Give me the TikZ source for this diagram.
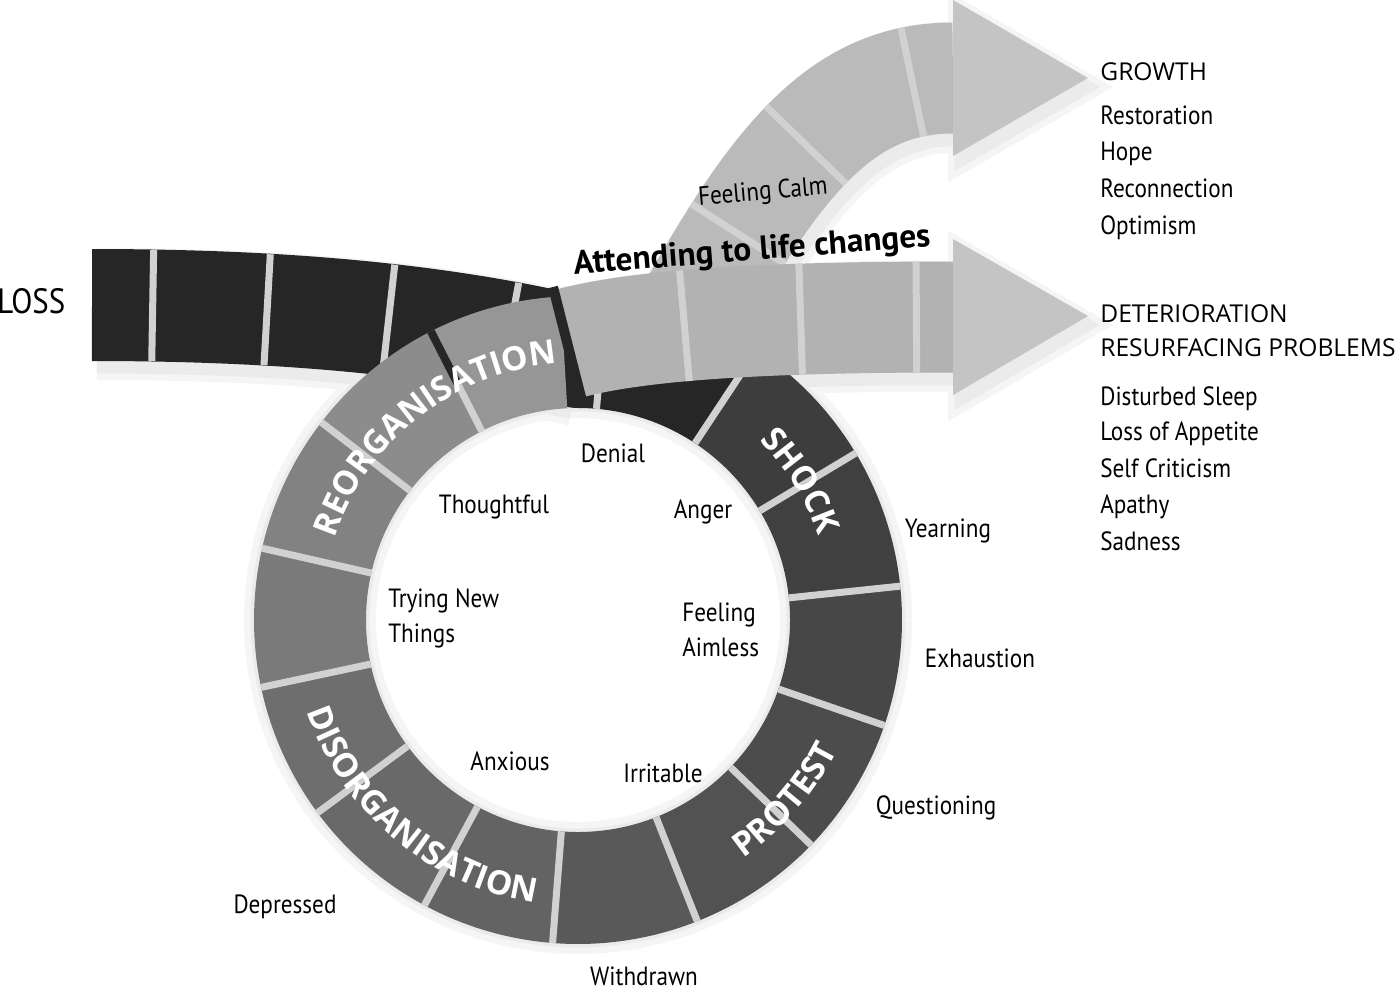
\documentclass[tikz,border=0pt]{standalone}
\usepackage{fontspec}
\setmainfont{PT Sans}
\newfontfamily\handfont[FakeStretch=0.88]{PT Sans}
\newfontfamily\boldhand{PT Sans}
\newfontfamily\headfont{Open Sans}
\newcommand\ringfont{\headfont\bfseries\fontsize{19}{22}\selectfont}
\usetikzlibrary{decorations.text}

\begin{document}
\begin{tikzpicture}[
  x=0.02cm, y=0.02cm,
  hand/.style={font=\handfont\fontsize{15}{20.4}\selectfont, inner sep=0pt},
  item/.style={hand, anchor=base west},
  head/.style={font=\headfont\fontsize{14}{17}\selectfont, inner sep=0pt, anchor=base west},
  band/.style={line width=2.22cm, line join=round},
  ringseg/.style={line width=2.24cm},
  gapline/.style={draw=black!18, line width=0.14cm},
  gapmark/.style={rectangle, fill=black!18, draw=none, inner sep=0pt, minimum width=0.14cm, minimum height=2.22cm},
  tip/.style={fill=black!23},
  halo/.style={draw=black!4, fill=black!4},
  shade/.style={draw=black!8, fill=black!8},
  ringlabel/.style={decorate, decoration={text along path, text align=center, text color=white, text={|\ringfont|#1}}},
]
\useasboundingbox (0,0) rectangle (1400,-992);
\fill[white] (0,0) rectangle (1400,-992);

\coordinate (C) at (578,-620);

% ---------- soft drop shadows ----------
\foreach \w/\s in {0.4/halo, 0.14/shade}{
  \begin{scope}[shift={(5,-9)}]
    \draw[\s, fill=none, line width=2.24cm+\w cm] ([shift={(0:268)}]C) arc[start angle=0, end angle=360, radius=268];
    \draw[\s, fill=none, line width=2.24cm+\w cm] (92,-305) .. controls (300,-305) and (450,-322) .. (578,-352);
    \draw[\s, fill=none, line width=2.22cm+\w cm] (571,-343) .. controls (650,-322) and (800,-317) .. (953,-317);
    \draw[\s, fill=none, line width=2.22cm+\w cm] (690,-315) .. controls (778,-158) and (843,-78) .. (953,-78);
    \filldraw[\s, line width=\w cm] (953,-239) -- (1088,-316) -- (953,-395) -- cycle;
    \filldraw[\s, line width=\w cm] (953,0) -- (1088,-78) -- (953,-156) -- cycle;
  \end{scope}
}

% ---------- growth arrow (behind) ----------
\draw[band, draw=black!27] (690,-315) .. controls (778,-158) and (843,-78) .. (953,-78)
  node[gapmark, sloped, pos=0.19] (ug1) {}
  node[gapmark, sloped, pos=0.47] (ug2) {}
  node[gapmark, sloped, pos=0.87] (ug3) {};
\fill[tip] (953,0) -- (1088,-78) -- (953,-156) -- cycle;

% ---------- loss band running into the ring ----------
\draw[band, line width=2.24cm, draw=black!85] (92,-305) .. controls (300,-305) and (450,-322) .. (578,-352)
  node[gapmark, sloped, pos=0.1] (lg1) {}
  node[gapmark, sloped, pos=0.305] (lg2) {}
  node[gapmark, sloped, pos=0.55] (lg3) {}
  node[gapmark, sloped, pos=0.825] (lg4) {}
  arc[start angle=90, end angle=56.5, radius=268];
\draw[gapline] ([shift={(85:212)}]C) -- ([shift={(85:324)}]C);

% ---------- ring ----------
\foreach \sa/\ea/\sh in {56.5/31/76, 31/6/75, 6/-19/72, -19/-44/70, -44/-68.4/68,
    -68.4/-94.5/65, -94.5/-118.3/61, -118.3/-143.5/59, -143.5/-168/57,
    -168/-192.8/52, -192.8/-217.6/49, -217.6/-243/45, -243/-267/41}
  \draw[ringseg, draw=black!\sh] ([shift={(\sa:268)}]C) arc[start angle=\sa, end angle=\ea, radius=268];
\foreach \g in {56.5, 31, 6, -19, -44, -68.4, -94.5, -118.3, -143.5, -168, -192.8, -217.6}
  \draw[gapline] ([shift={(\g:212)}]C) -- ([shift={(\g:324)}]C);
\draw[gapline] ([shift={(117:212)}]C) -- ([shift={(117:264)}]C);
\draw[line width=0.16cm, draw=black!85] ([shift={(117:264)}]C) -- ([shift={(117:324)}]C);

% ---------- deterioration arrow ----------
\draw[band, draw=black!30] (571,-343) .. controls (650,-322) and (800,-317) .. (953,-317)
  node[gapmark, sloped, pos=0.37] (sg1) {}
  node[gapmark, sloped, pos=0.66] (sg2) {}
  node[gapmark, sloped, pos=0.92] (sg3) {};
\fill[tip] (953,-239) -- (1088,-316) -- (953,-395) -- cycle;
\draw[line width=0.2cm, draw=black!85] (553,-287) -- (582,-401);

% ---------- stage names ----------
\path[ringlabel=REORGANISATION] ([shift={(173:257)}]C) arc[start angle=173, end angle=83, radius=257];
\path[ringlabel=DISORGANISATION] ([shift={(185:286)}]C) arc[start angle=185, end angle=275, radius=286];
\path[ringlabel=SHOCK] ([shift={(60:255)}]C) arc[start angle=60, end angle=4, radius=255];
\path[ringlabel=PROTEST] ([shift={(-86:290)}]C) arc[start angle=-86, end angle=4, radius=290];

% ---------- feelings ----------
\node[hand, font=\handfont\fontsize{20}{22}\selectfont, anchor=base west] (loss) at (-3,-313) {LOSS};
\node[hand, rotate=5] (calm) at (763,-193) {Feeling Calm};
\node[font=\boldhand\bfseries\fontsize{19}{21}\selectfont, rotate=4.5, inner sep=0pt] (attend) at (752,-252) {Attending to life changes};
\node[hand, anchor=base] (denial) at (613,-462) {Denial};
\node[hand, anchor=base] (thought) at (494,-513) {Thoughtful};
\node[hand, anchor=base] (anger) at (703,-518) {Anger};
\node[hand, anchor=base] (yearn) at (948,-537) {Yearning};
\node[hand, anchor=north west, align=left] (trying) at (388,-588) {Trying New\\Things};
\node[hand, anchor=north west, align=left] (aimless) at (682,-602) {Feeling\\Aimless};
\node[hand, anchor=base] (exhaust) at (980,-667) {Exhaustion};
\node[hand, anchor=base] (anxious) at (510,-770) {Anxious};
\node[hand, anchor=base] (irrit) at (663,-782) {Irritable};
\node[hand, anchor=base] (quest) at (936,-814) {Questioning};
\node[hand, anchor=base] (depress) at (285,-913) {Depressed};
\node[hand, anchor=base] (withdrawn) at (644,-985) {Withdrawn};

% ---------- outcomes ----------
\node[head] (growth) at (1100,-80.5) {GROWTH};
\foreach \t/\y [count=\i] in {Restoration/124.5, Hope/160, Reconnection/197, Optimism/234.4}
  \node[item] (grow\i) at (1100,-\y) {\t};
\node[head] (deter) at (1100,-322) {DETERIORATION};
\node[head] (resurf) at (1100,-356) {RESURFACING PROBLEMS};
\foreach \t/\y [count=\i] in {Disturbed Sleep/405, Loss of Appetite/440.6, Self Criticism/477.8, Apathy/513.3, Sadness/550.5}
  \node[item] (prob\i) at (1100,-\y) {\t};
\end{tikzpicture}
\end{document}
